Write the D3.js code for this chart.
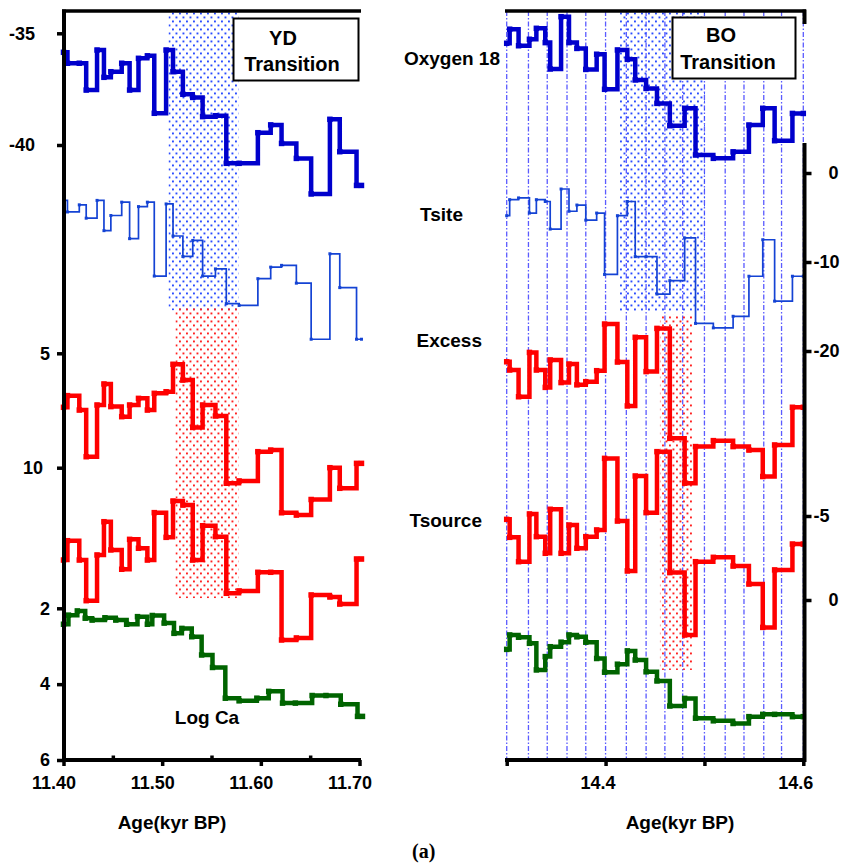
<!DOCTYPE html>
<html><head><meta charset="utf-8">
<script src="https://cdn.jsdelivr.net/npm/d3@7"></script>
<style>
body{margin:0;background:#fff;}
text{font-family:"Liberation Sans",Arial,sans-serif;font-weight:bold;fill:#000;}
</style></head>
<body><div id="chart"></div>
<script>
// ---------------- DATA ----------------
// Left panel: YD transition (age, kyr BP) - step boundaries
const leftAges = [11.400,11.404,11.416,11.423,11.434,11.441,11.448,11.459,11.467,11.476,11.485,11.492,11.504,11.511,11.521,11.531,11.541,11.554,11.565,11.578,11.597,11.610,11.621,11.636,11.651,11.670,11.680,11.697,11.702];
const leftO18 = [-35.85,-36.34,-36.34,-37.54,-35.75,-36.97,-36.72,-36.34,-37.54,-36.12,-36.01,-38.58,-35.75,-36.72,-37.73,-37.87,-38.73,-38.69,-40.82,-40.82,-39.45,-39.10,-39.93,-40.60,-42.19,-38.85,-40.30,-41.81];
const leftTsite = [-45.1,-46.4,-45.6,-47.1,-45.1,-48.5,-46.8,-45.3,-49.4,-45.8,-45.3,-53.6,-45.5,-49.1,-51.4,-49.6,-53.6,-52.8,-56.7,-56.9,-53.9,-52.6,-52.4,-54.4,-60.7,-51.1,-54.9,-60.7];
const leftExcess = [7.36,6.85,7.48,9.52,7.26,6.34,7.33,7.77,7.26,6.97,7.48,6.75,6.68,5.48,6.17,8.24,7.26,7.74,10.68,10.58,9.30,9.23,11.97,12.07,11.39,10.00,10.90,9.81];
const leftTsource = [-2.38,-3.53,-2.38,0.04,-2.68,-4.66,-2.98,-1.83,-3.61,-3.08,-2.38,-5.20,-3.73,-5.89,-5.65,-2.38,-4.42,-3.77,-0.40,-0.54,-1.65,-1.65,2.38,2.26,-0.30,-0.18,0.24,-2.44];
const leftCaAges = [11.400,11.405,11.414,11.422,11.429,11.442,11.453,11.464,11.475,11.485,11.490,11.502,11.512,11.520,11.530,11.540,11.551,11.564,11.578,11.596,11.608,11.622,11.635,11.652,11.666,11.681,11.698,11.703];
const leftCa = [2.42,2.18,2.07,2.26,2.31,2.25,2.31,2.42,2.22,2.42,2.19,2.39,2.66,2.53,2.75,3.23,3.56,4.37,4.44,4.37,4.19,4.50,4.50,4.30,4.30,4.53,4.85];

// Right panel: BO transition
const rightAges = [14.300,14.303,14.312,14.323,14.330,14.339,14.344,14.355,14.363,14.371,14.380,14.391,14.399,14.412,14.422,14.430,14.441,14.452,14.465,14.480,14.491,14.509,14.529,14.545,14.559,14.571,14.589,14.600];
const rightO18 = [-36.49,-35.86,-36.60,-36.31,-35.82,-36.46,-37.64,-35.30,-36.46,-36.72,-37.66,-36.98,-38.55,-36.79,-37.21,-38.13,-38.51,-39.18,-40.18,-39.40,-41.49,-41.64,-41.35,-40.15,-39.40,-40.85,-39.63];
const rightTsite = [-4.8,-3.0,-2.8,-4.5,-3.0,-3.2,-6.3,-1.8,-4.3,-3.6,-5.3,-4.5,-11.4,-4.8,-3.2,-9.4,-9.4,-13.6,-12.1,-7.3,-16.9,-17.4,-16.1,-11.6,-7.5,-14.4,-11.6];
const rightExcess = [6.39,6.75,7.92,5.98,6.75,7.51,6.31,7.30,6.49,7.40,7.26,6.78,4.74,6.40,8.32,5.32,6.82,4.93,9.74,11.70,10.10,9.84,10.10,10.25,11.41,10.03,8.38];
const rightTsource = [-4.80,-3.73,-2.28,-5.12,-3.77,-2.78,-5.40,-2.78,-4.46,-3.08,-3.77,-4.17,-8.43,-4.70,-1.73,-7.38,-5.20,-8.83,-1.63,2.08,-2.28,-2.54,-2.02,-0.95,1.63,-1.79,-3.33];
const rightCa = [2.51,2.13,2.19,2.35,3.05,2.70,2.44,2.32,2.13,2.18,2.32,2.75,3.11,2.90,2.55,2.79,3.10,3.34,4.00,3.80,4.32,4.39,4.46,4.28,4.22,4.22,4.28];
const rightGrid = [14.300,14.322,14.341,14.361,14.380,14.400,14.421,14.441,14.460,14.478,14.500,14.521,14.540,14.560,14.578,14.600];

// Transition bands [ageStart, ageEnd, valueTop, valueBottom] in the scale of the named series
const leftBlueBand = [11.5065, 11.5775, -34.0, -47.4];   // O18 units
const leftRedBand  = [11.5135, 11.5775, 2.98, 15.7];     // excess units
const rightBlueBand = [14.4136, 14.5005, -35.04, -48.5]; // O18 units
const rightRedBand  = [14.455, 14.4875, 4.34, 19.87];    // excess units

// Tick labels
const leftXTicks = [11.40, 11.50, 11.60, 11.70];
const leftXMinor = [11.45, 11.55, 11.65];
const rightXTicks = [14.3, 14.4, 14.5, 14.6];
const rightXLabels = ["", "14.4", "", "14.6"];
const leftO18Ticks = [-35, -40];
const leftExcessTicks = [5, 10];
const leftCaTicks = [2, 4, 6];
const rightTsiteTicks = [0, -10, -20];
const rightTsourceTicks = [-5, 0];

// ---------------- CHART ----------------
const W = 842, H = 867;
const svg = d3.select("#chart").append("svg").attr("width", W).attr("height", H);
const defs = svg.append("defs");
function dotPattern(id, color) {
  const p = defs.append("pattern").attr("id", id).attr("patternUnits", "userSpaceOnUse")
    .attr("width", 7).attr("height", 8);
  p.append("rect").attr("x", 0.5).attr("y", 0.5).attr("width", 1.9).attr("height", 1.9).attr("fill", color);
  p.append("rect").attr("x", 4).attr("y", 4.5).attr("width", 1.9).attr("height", 1.9).attr("fill", color);
}
dotPattern("blueDots", "#2a4cff");
dotPattern("redDots", "#ff2020");

// scales
const xL = d3.scaleLinear().domain([11.40, 11.70]).range([63.5, 359.5]);
const yO18L = d3.scaleLinear().domain([-35, -40]).range([33.3, 145]);
const yTsiteL = d3.scaleLinear().domain([-40, -60]).range([155, 333]);
const yExcL = d3.scaleLinear().domain([5, 10]).range([353.3, 467.7]);
const yTsrcL = d3.scaleLinear().domain([-5, 0]).range([516, 600]);
const yCaL = d3.scaleLinear().domain([2, 6]).range([608.3, 760]);

const xR = d3.scaleLinear().domain([14.3, 14.6]).range([506.7, 803.3]);
const yO18R = d3.scaleLinear().domain([-35, -40]).range([10, 121.7]);
const yTsiteR = d3.scaleLinear().domain([0, -20]).range([173, 351]);
const yExcR = d3.scaleLinear().domain([5, 10]).range([330, 444.3]);
const yTsrcR = d3.scaleLinear().domain([-5, 0]).range([516, 600]);
const yCaR = d3.scaleLinear().domain([2, 6]).range([630, 782]);

const TOP = 11, BOTTOM = 760;

// right panel grid lines
svg.append("g").selectAll("line").data(rightGrid).join("line")
  .attr("x1", d => xR(d)).attr("x2", d => xR(d)).attr("y1", TOP).attr("y2", BOTTOM)
  .attr("stroke", "#5a5aff").attr("stroke-width", 1.3).attr("stroke-dasharray", "5,2,1.5,2");

// bands
function band(b, x, y, fill) {
  svg.append("rect").attr("x", x(b[0])).attr("width", x(b[1]) - x(b[0]))
    .attr("y", y(b[2])).attr("height", y(b[3]) - y(b[2])).attr("fill", fill);
}
band(leftBlueBand, xL, yO18L, "url(#blueDots)");
band(leftRedBand, xL, yExcL, "url(#redDots)");
band(rightBlueBand, xR, yO18R, "url(#blueDots)");
band(rightRedBand, xR, yExcR, "url(#redDots)");

// step series
function steps(ages, vals) {
  const pts = vals.map((v, i) => [ages[i], v]);
  pts.push([ages[vals.length], vals[vals.length - 1]]);
  return pts;
}
function series(ages, vals, x, y, color, width, marker) {
  const pts = steps(ages, vals);
  const line = d3.line().x(d => x(d[0])).y(d => y(d[1])).curve(d3.curveStepAfter);
  svg.append("path").attr("d", line(pts)).attr("fill", "none").attr("stroke", color)
    .attr("stroke-width", width).attr("stroke-linejoin", "miter").attr("stroke-linecap", "square");
  svg.append("g").selectAll("rect").data(pts).join("rect")
    .attr("x", d => x(d[0]) - marker / 2).attr("y", d => y(d[1]) - marker / 2)
    .attr("width", marker).attr("height", marker).attr("fill", color);
}
const BLUE = "#0000cc", TBLUE = "#1443d4", RED = "#ff0000", GREEN = "#006400";
series(leftAges, leftO18, xL, yO18L, BLUE, 4.5, 5.5);
series(leftAges, leftTsite, xL, yTsiteL, TBLUE, 1.7, 3);
series(leftAges, leftExcess, xL, yExcL, RED, 4.5, 5.5);
series(leftAges, leftTsource, xL, yTsrcL, RED, 4.5, 5.5);
series(leftCaAges, leftCa, xL, yCaL, GREEN, 4.5, 5.5);

series(rightAges, rightO18, xR, yO18R, BLUE, 4.5, 5.5);
series(rightAges, rightTsite, xR, yTsiteR, TBLUE, 1.7, 3);
series(rightAges, rightExcess, xR, yExcR, RED, 4.5, 5.5);
series(rightAges, rightTsource, xR, yTsrcR, RED, 4.5, 5.5);
series(rightAges, rightCa, xR, yCaR, GREEN, 4.5, 5.5);

// frame lines
function seg(x1, y1, x2, y2, w) {
  svg.append("line").attr("x1", x1).attr("y1", y1).attr("x2", x2).attr("y2", y2)
    .attr("stroke", "#000").attr("stroke-width", w);
}
seg(62, TOP, 361, TOP, 3.5);
seg(64, TOP - 1.5, 64, BOTTOM + 2, 4);
seg(62, BOTTOM, 361, BOTTOM, 4);
seg(505, TOP, 806, TOP, 3.5);
seg(505, BOTTOM, 806, BOTTOM, 4);
seg(804.5, TOP - 1.5, 804.5, 24, 4);
seg(804.5, 143, 804.5, BOTTOM + 2, 4);

// axes
function styleAxis(g) {
  g.select(".domain").remove();
  g.selectAll(".tick line").attr("stroke", "#000").attr("stroke-width", 3.5);
  g.selectAll(".tick text").style("font-family", "'Liberation Sans',Arial,sans-serif")
    .style("font-weight", "bold").attr("fill", "#000");
}
const fmtPlain = d => String(d);
const leftLabelShift = {"10": -7};
function leftAxis(scale, ticks, pad) {
  const g = svg.append("g").attr("transform", "translate(64,0)")
    .call(d3.axisLeft(scale).tickValues(ticks).tickFormat(fmtPlain).tickSize(7).tickPadding(pad));
  styleAxis(g);
  g.selectAll(".tick text").style("font-size", "18px")
    .attr("dx", d => leftLabelShift[String(d)] || 0);
}
leftAxis(yO18L, leftO18Ticks, 22);
leftAxis(yExcL, leftExcessTicks, 7);
leftAxis(yCaL, leftCaTicks, 7);

function rightAxis(scale, ticks) {
  const g = svg.append("g").attr("transform", "translate(804.5,0)")
    .call(d3.axisRight(scale).tickValues(ticks).tickFormat(fmtPlain).tickSize(7).tickPadding(2));
  styleAxis(g);
  g.selectAll(".tick text").style("font-size", "18px")
    .attr("dx", d => d < 0 ? 0 : 15);
}
rightAxis(yTsiteR, rightTsiteTicks);
rightAxis(yTsrcR, rightTsourceTicks);

const gxL = svg.append("g").attr("transform", `translate(0,${BOTTOM})`)
  .call(d3.axisBottom(xL).tickValues(leftXTicks).tickFormat(d3.format(".2f")).tickSize(6).tickPadding(10));
styleAxis(gxL);
gxL.selectAll(".tick text").style("font-size", "18px").attr("dx", -10);
const gxLm = svg.append("g").attr("transform", `translate(0,${BOTTOM})`)
  .call(d3.axisBottom(xL).tickValues(leftXMinor).tickFormat("").tickSize(-4.5));
styleAxis(gxLm);

const gxR = svg.append("g").attr("transform", `translate(0,${BOTTOM})`)
  .call(d3.axisBottom(xR).tickValues(rightXTicks).tickFormat((d, i) => rightXLabels[i]).tickSize(6).tickPadding(10));
styleAxis(gxR);
gxR.selectAll(".tick text").style("font-size", "18px").attr("dx", -8);

// label boxes
svg.append("rect").attr("x", 233.5).attr("y", 18.5).attr("width", 125).attr("height", 62)
  .attr("fill", "#fff").attr("stroke", "#000").attr("stroke-width", 2);
svg.append("rect").attr("x", 672.5).attr("y", 17.5).attr("width", 123).attr("height", 61)
  .attr("fill", "#fff").attr("stroke", "#000").attr("stroke-width", 2);

function txt(s, x, y, size, anchor, extra) {
  const t = svg.append("text").attr("x", x).attr("y", y).attr("text-anchor", anchor)
    .style("font-size", size + "px").text(s);
  if (extra) extra(t);
  return t;
}
txt("YD", 283, 45, 20, "middle");
txt("Transition", 292, 71, 20, "middle");
txt("BO", 721, 42, 20, "middle");
txt("Transition", 728, 69, 20, "middle");
txt("Log Ca", 207, 724, 19, "middle");
txt("Oxygen 18", 500, 65, 19, "end");
txt("Tsite", 463, 221, 19, "end");
txt("Excess", 482, 347, 19, "end");
txt("Tsource", 482, 527, 19, "end");
txt("Age(kyr BP)", 172, 829, 19, "middle");
txt("Age(kyr BP)", 680, 829, 19, "middle");
txt("(a)", 412, 858, 20, "start", t => t.style("font-family", "'Liberation Serif','Times New Roman',serif"));
</script></body></html>
